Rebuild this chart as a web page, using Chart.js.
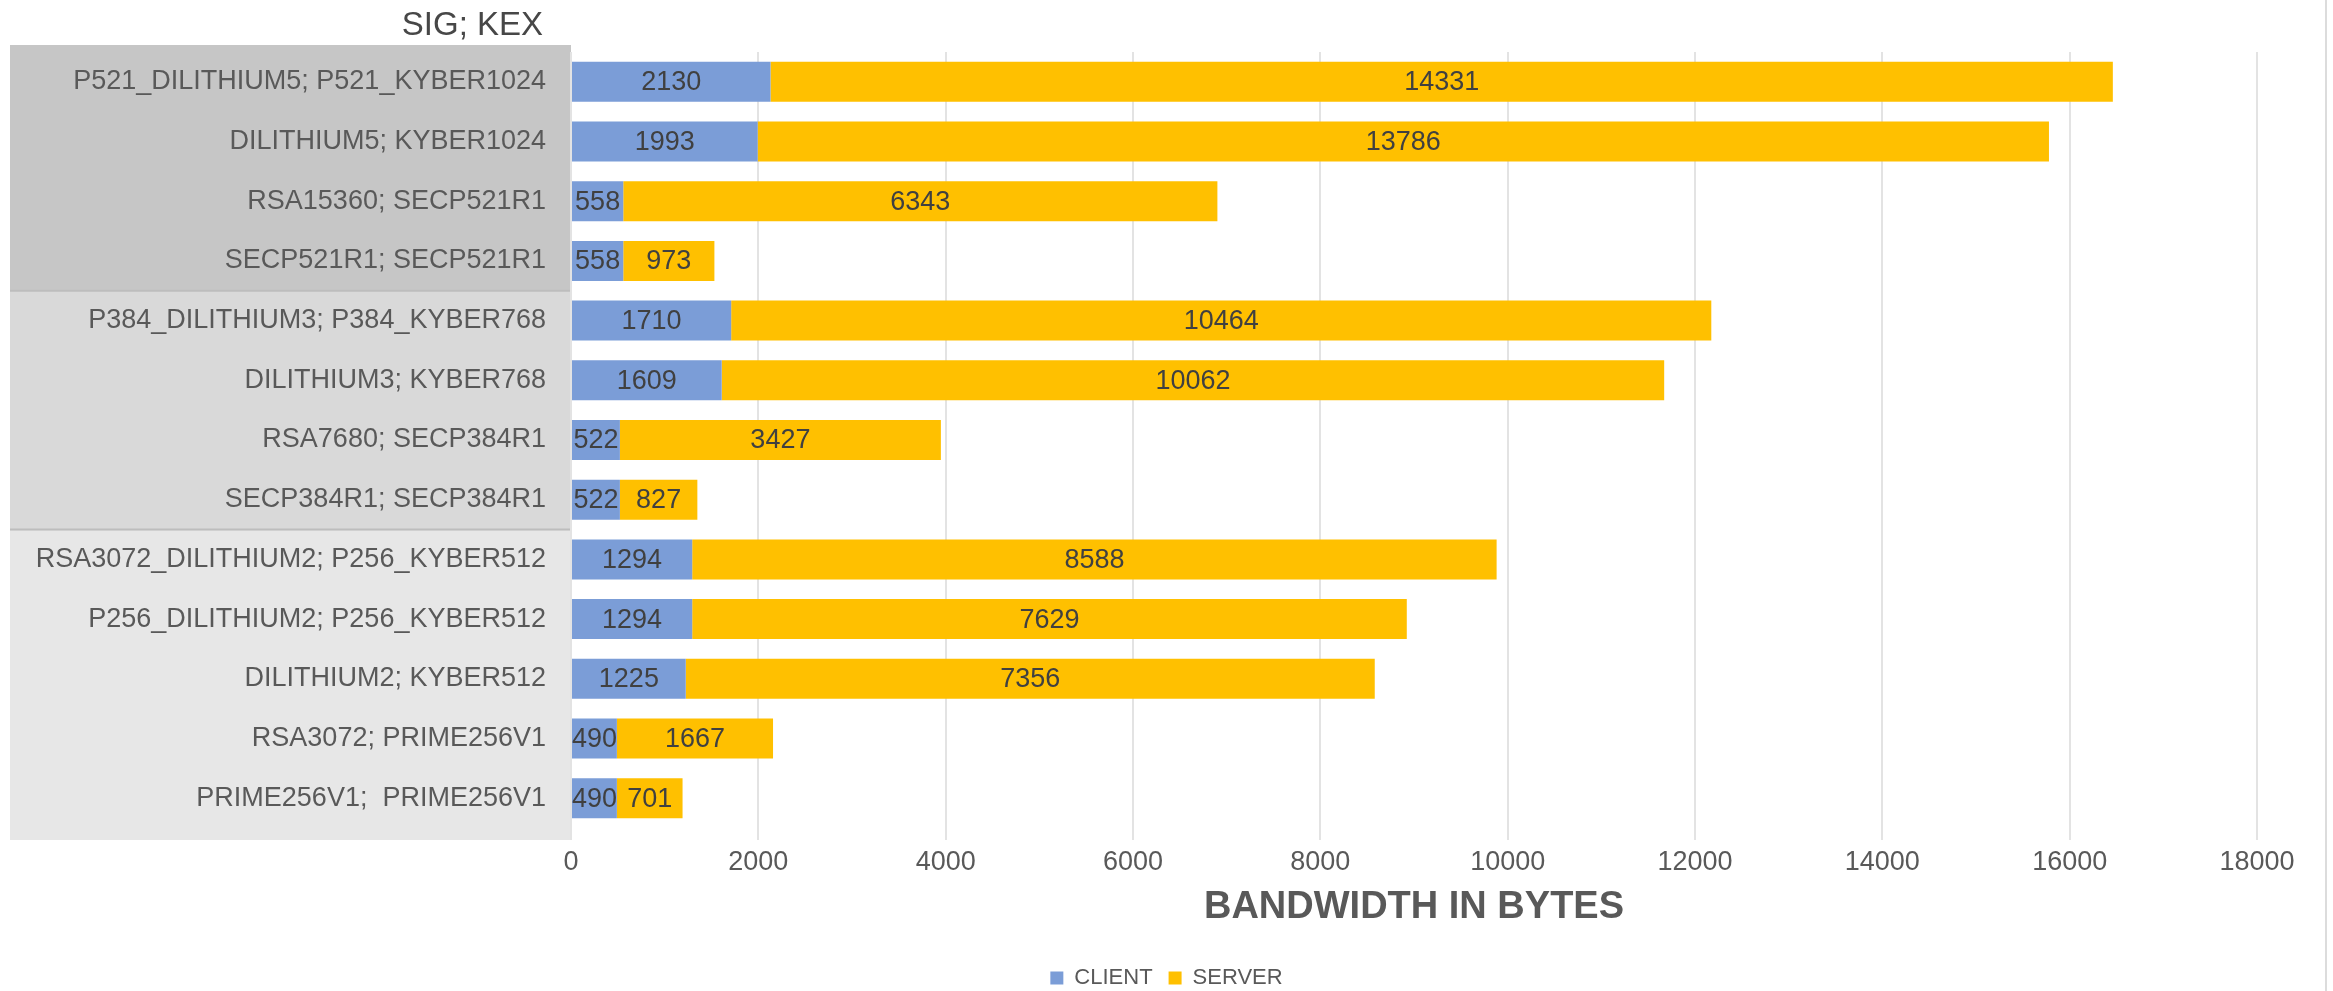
<!DOCTYPE html>
<html>
<head>
<meta charset="utf-8">
<script src="https://cdn.jsdelivr.net/npm/chart.js@4/dist/chart.umd.min.js"></script>
<style>
html,body{margin:0;padding:0;background:#ffffff;}
canvas{display:block;}
</style>
</head>
<body>
<canvas id="c" width="2333" height="991"></canvas>
<script>
// ---- data ----
const categories = [
  "P521_DILITHIUM5; P521_KYBER1024",
  "DILITHIUM5; KYBER1024",
  "RSA15360; SECP521R1",
  "SECP521R1; SECP521R1",
  "P384_DILITHIUM3; P384_KYBER768",
  "DILITHIUM3; KYBER768",
  "RSA7680; SECP384R1",
  "SECP384R1; SECP384R1",
  "RSA3072_DILITHIUM2; P256_KYBER512",
  "P256_DILITHIUM2; P256_KYBER512",
  "DILITHIUM2; KYBER512",
  "RSA3072; PRIME256V1",
  "PRIME256V1;  PRIME256V1"
];
const clientBytes = [2130, 1993, 558, 558, 1710, 1609, 522, 522, 1294, 1294, 1225, 490, 490];
const serverBytes = [14331, 13786, 6343, 973, 10464, 10062, 3427, 827, 8588, 7629, 7356, 1667, 701];
const xTickValues = [0, 2000, 4000, 6000, 8000, 10000, 12000, 14000, 16000, 18000];
const seriesNames = ["CLIENT", "SERVER"];
const axisTitle = "BANDWIDTH IN BYTES";
const cornerTitle = "SIG; KEX";
const groupRanges = [[0, 3], [4, 7], [8, 12]];

// ---- styles ----
const FONT = "'Liberation Sans', Arial, sans-serif";
const groupFills = ["#c6c6c6", "#d9d9d9", "#e7e7e7"];
const TEXT = "#595959";

const panelPlugin = {
  id: "panelPlugin",
  afterLayout(chart) {
    // centre the legend on the whole canvas, as in the reference
    const lg = chart.legend;
    if (lg) {
      const shift = chart.width / 2 - (lg.left + lg.right) / 2;
      lg.left += shift;
      lg.right += shift;
    }
  },
  beforeDraw(chart) {
    const ctx = chart.ctx;
    const ys = chart.scales.y;
    const left = 10;
    const right = ys.right;
    const n = categories.length;
    ctx.save();
    groupRanges.forEach((g, k) => {
      const top = g[0] === 0 ? ys.top - 7 : ys.getPixelForValue(g[0] - 0.5);
      const bottom = g[1] === n - 1 ? ys.bottom + 12 : ys.getPixelForValue(g[1] + 0.5);
      ctx.fillStyle = groupFills[k];
      ctx.fillRect(left, top, right - left, bottom - top);
      if (k > 0) {
        ctx.fillStyle = "#bdbdbd";
        ctx.fillRect(left, top - 1, right - left, 2);
      }
    });
    // outer right border line
    ctx.fillStyle = "#dcdcdc";
    ctx.fillRect(2325, 0, 2, chart.height);
    // corner title
    ctx.fillStyle = "#474747";
    ctx.font = "33px " + FONT;
    ctx.textAlign = "right";
    ctx.textBaseline = "middle";
    ctx.fillText(cornerTitle, ys.right - 28, 26);
    ctx.restore();
  }
};

const valueLabelPlugin = {
  id: "valueLabelPlugin",
  afterDatasetsDraw(chart) {
    const ctx = chart.ctx;
    ctx.save();
    ctx.font = "27px " + FONT;
    ctx.fillStyle = "#404040";
    ctx.textAlign = "center";
    ctx.textBaseline = "middle";
    chart.data.datasets.forEach((ds, i) => {
      const meta = chart.getDatasetMeta(i);
      meta.data.forEach((el, j) => {
        const cx = (el.x + el.base) / 2;
        ctx.fillText(String(ds.data[j]), cx, el.y + 1);
      });
    });
    ctx.restore();
  }
};

Chart.defaults.font.family = FONT;

new Chart(document.getElementById("c"), {
  type: "bar",
  data: {
    labels: categories,
    datasets: [
      { label: seriesNames[0], data: clientBytes, backgroundColor: "#7b9dd7", barPercentage: 0.67, categoryPercentage: 1.0 },
      { label: seriesNames[1], data: serverBytes, backgroundColor: "#ffc000", barPercentage: 0.67, categoryPercentage: 1.0 }
    ]
  },
  options: {
    indexAxis: "y",
    responsive: false,
    animation: false,
    devicePixelRatio: 1,
    layout: { padding: { top: 52, left: 10, right: 76, bottom: -8 } },
    plugins: {
      legend: {
        position: "bottom",
        align: "center",
        labels: { font: { size: 22 }, color: TEXT, boxWidth: 13, boxHeight: 13, padding: 16 }
      },
      tooltip: { enabled: false },
      title: { display: false }
    },
    scales: {
      x: {
        stacked: true,
        min: 0,
        max: 18000,
        afterBuildTicks: (s) => { s.ticks = xTickValues.map(v => ({ value: v })); },
        ticks: { font: { size: 27 }, color: TEXT, padding: 6, callback: (v) => String(v), maxRotation: 0 },
        grid: { color: "#e3e3e3", lineWidth: 2, tickLength: 12 },
        border: { display: false },
        title: { display: true, text: axisTitle, font: { size: 38, weight: "bold" }, color: TEXT, padding: { top: 6, bottom: 21 } },
        afterFit: (s) => { s.height = 123; }
      },
      y: {
        stacked: true,
        grid: { display: false, drawTicks: false },
        border: { display: false },
        ticks: { font: { size: 27 }, color: TEXT, padding: 25, autoSkip: false },
        afterFit: (s) => { s.width = 561; }
      }
    }
  },
  plugins: [panelPlugin, valueLabelPlugin]
});
</script>
</body>
</html>
